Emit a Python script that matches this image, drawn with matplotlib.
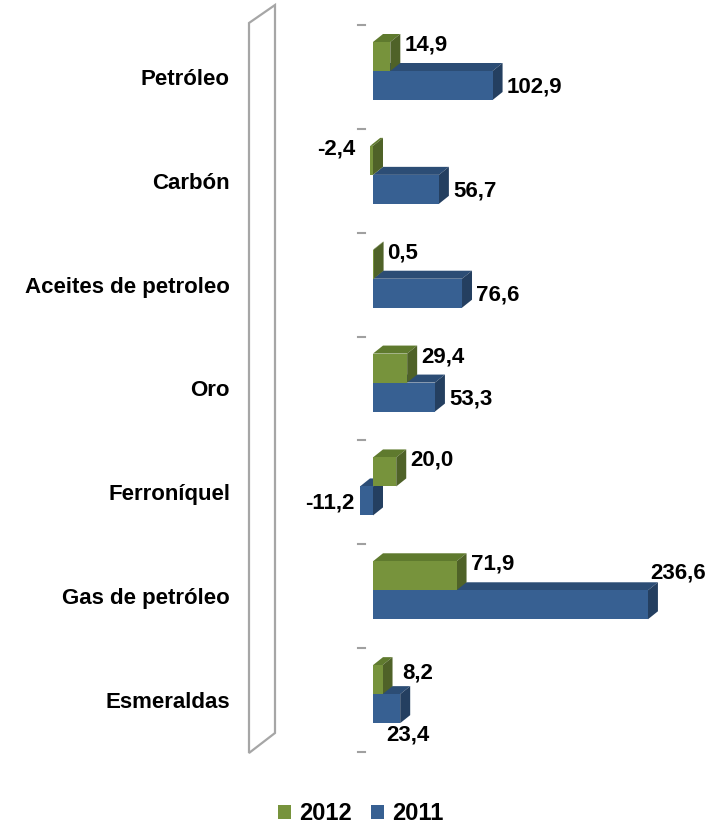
import matplotlib
matplotlib.use("Agg")
import matplotlib.pyplot as plt
from matplotlib.patches import Polygon, Patch
import matplotlib.transforms as mtransforms

# ---------------- data ----------------
categories = ["Petróleo", "Carbón", "Aceites de petroleo", "Oro",
              "Ferroníquel", "Gas de petróleo", "Esmeraldas"]
series_names = ["2012", "2011"]
values_2012 = [14.9, -2.4, 0.5, 29.4, 20.0, 71.9, 8.2]
values_2011 = [102.9, 56.7, 76.6, 53.3, -11.2, 236.6, 23.4]

# ---------------- style ----------------
plt.rcParams['font.family'] = ['Liberation Sans', 'DejaVu Sans']
W, H = 725, 827
fig = plt.figure(figsize=(W / 100, H / 100), dpi=100)
fig.patch.set_facecolor("white")

colors = {
    "2012": {"front": "#77933C", "top": "#5F7A2E", "side": "#4F6228"},
    "2011": {"front": "#376092", "top": "#2C4D75", "side": "#243F60"},
}

# layout (pixels)
ax_left_px, ax_right_px = 240, 720
ax_top_px, ax_bot_px = 25, 752
zero_px = 373
px_per_unit = 1.162
band_px = (ax_bot_px - ax_top_px) / len(categories)

ax = fig.add_axes([ax_left_px / W, 1 - ax_bot_px / H,
                   (ax_right_px - ax_left_px) / W, (ax_bot_px - ax_top_px) / H])
ax.set_xlim((ax_left_px - zero_px) / px_per_unit, (ax_right_px - zero_px) / px_per_unit)
ax.set_ylim(len(categories), 0)
for s in ax.spines.values():
    s.set_visible(False)
ax.xaxis.set_visible(False)
ax.set_yticks([i + 0.5 for i in range(len(categories))])
ax.set_yticklabels(categories, fontsize=16, fontweight="bold")
ax.tick_params(axis="y", length=0, pad=10 * 0.72)
ax.patch.set_alpha(0)

# 3D depth in data units
dx = 10 / px_per_unit
dy = 8 / band_px
# bar vertical geometry within band
g_top, g_bot = 17 / band_px, 46 / band_px
b_top, b_bot = 46 / band_px, 75 / band_px


def box(x0, x1, yt, yb, c):
    front = Polygon([(x0, yt), (x1, yt), (x1, yb), (x0, yb)], closed=True,
                    facecolor=c["front"], edgecolor="none", zorder=3)
    top = Polygon([(x0, yt), (x1, yt), (x1 + dx, yt - dy), (x0 + dx, yt - dy)], closed=True,
                  facecolor=c["top"], edgecolor="none", zorder=3)
    side = Polygon([(x1, yt), (x1, yb), (x1 + dx, yb - dy), (x1 + dx, yt - dy)], closed=True,
                   facecolor=c["side"], edgecolor="none", zorder=3)
    for p in (top, side, front):
        ax.add_patch(p)


# label nudges in pixels (dx right, dy down)
nudges = {
    ("Carbón", "2012"): (-10, 0),
    ("Esmeraldas", "2012"): (6, 5),
    ("Gas de petróleo", "2011"): (-12, -34),
    ("Esmeraldas", "2011"): (-28, 24),
}


def fmt(v):
    return f"{v:.1f}".replace(".", ",")


def label(i, v, yref, name):
    nx, ny = nudges.get((categories[i], name), (0, 0))
    if v >= 0:
        x = v + dx
        off = 4 + nx
        ha = "left"
    else:
        x = v
        off = -5 + nx
        ha = "right"
    ax.annotate(fmt(v), xy=(x, yref), xytext=(off * 0.72, -ny * 0.72),
                textcoords="offset points", ha=ha, va="center",
                fontsize=16, fontweight="bold", color="black", zorder=5,
                annotation_clip=False)


for i in range(len(categories)):
    v11 = values_2011[i]
    v12 = values_2012[i]
    # 2011 (behind/below)
    box(min(0, v11), max(0, v11), i + b_top, i + b_bot, colors["2011"])
    # 2012 (upper)
    box(min(0, v12), max(0, v12), i + g_top, i + g_bot, colors["2012"])
    label(i, v12, i + g_top + 3 / band_px, "2012")
    label(i, v11, i + (b_top + b_bot) / 2 + 2 / band_px, "2011")

# category-axis tick dashes at band boundaries
tx0 = (358 - zero_px) / px_per_unit
tx1 = (365 - zero_px) / px_per_unit
for k in range(len(categories) + 1):
    ax.plot([tx0, tx1], [k, k], color="#A0A0A0", lw=1.5, clip_on=False, zorder=2)

# back wall (3D side panel), drawn in pixel space
pix = mtransforms.Affine2D().scale(1 / W, -1 / H).translate(0, 1) + fig.transFigure
wall = Polygon([(249, 23), (275, 5), (275, 733), (249, 753)], closed=True,
               facecolor="white", edgecolor="#A6A6A6", lw=1.6, transform=pix, zorder=0)
fig.patches.append(wall)

# legend
handles = [Patch(facecolor=colors[n]["front"], edgecolor="none") for n in series_names]
fig.legend(handles, series_names, loc="center", bbox_to_anchor=(361 / W, 1 - 814 / H),
           ncol=2, frameon=False, handlelength=0.55, handleheight=0.55,
           handletextpad=0.35, columnspacing=0.8,
           prop={"size": 17, "weight": "bold"})

fig.savefig("out.png", dpi=100, facecolor="white")
